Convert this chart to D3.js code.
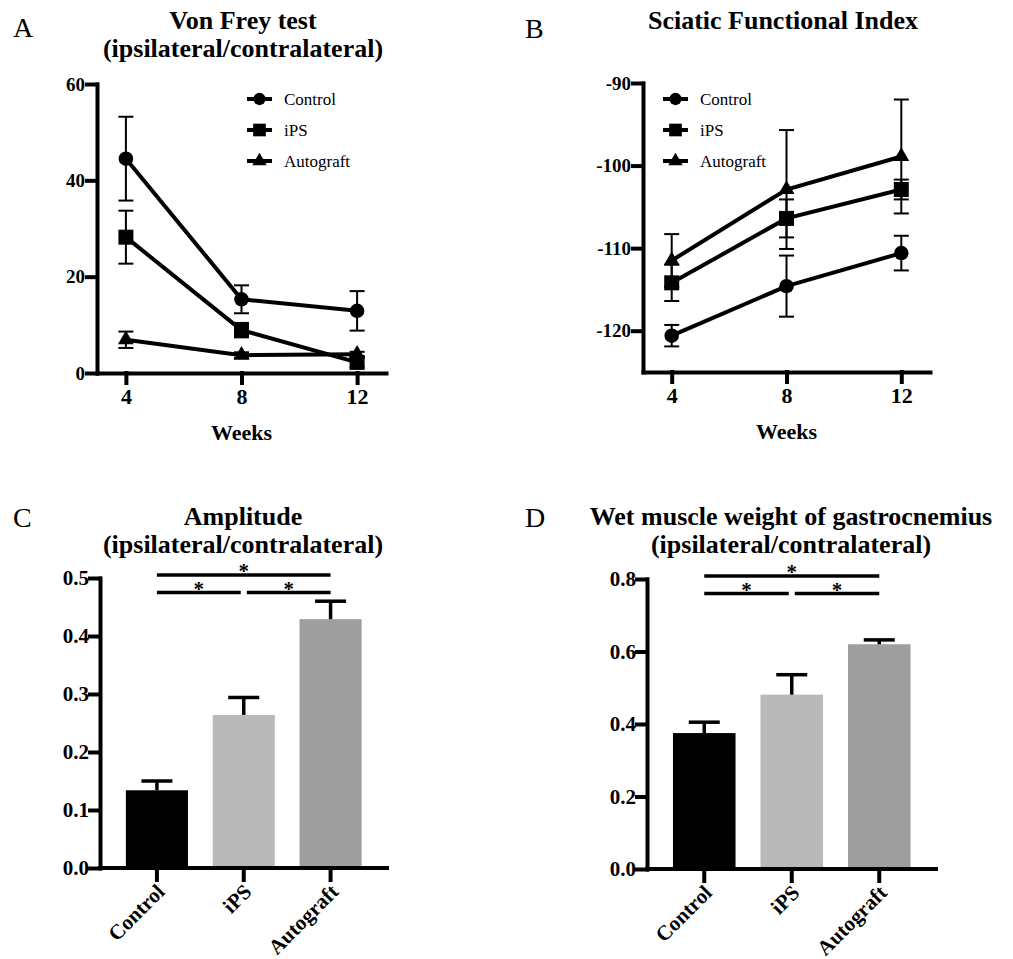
<!DOCTYPE html>
<html lang="en">
<head>
<meta charset="utf-8">
<title>Functional recovery after nerve repair</title>
<script src="https://d3js.org/d3.v7.min.js"></script>
<style>
  body { margin: 0; background: #fff; }
  svg text { font-family: "Liberation Serif", "Times New Roman", Times, serif; }
</style>
</head>
<body>
<div id="figure"></div>
<script>
// ---- values ----
var weeks = [4, 8, 12];
var groups = ["Control", "iPS", "Autograft"];

// A: Von Frey test (mean, SEM)
var vfControl = [44.5, 15.3, 12.9];
var vfControlErr = [8.7, 2.9, 4.1];
var vfIPS = [28.2, 8.9, 2.2];
var vfIPSErr = [5.5, 1.5, 1.0];
var vfAuto = [6.9, 3.7, 3.9];
var vfAutoErr = [1.7, 0.6, 0.5];
var vfTicks = [0, 20, 40, 60];

// B: Sciatic Functional Index
var sfiControl = [-120.6, -114.6, -110.6];
var sfiControlErr = [1.3, 3.7, 2.1];
var sfiIPS = [-114.2, -106.4, -102.9];
var sfiIPSErr = [2.2, 2.3, 1.2];
var sfiAuto = [-111.5, -102.9, -98.9];
var sfiAutoErr = [3.2, 7.2, 6.9];
var sfiTicks = [-120, -110, -100, -90];

// C: Amplitude
var ampMean = [0.134, 0.264, 0.429];
var ampErr = [0.016, 0.030, 0.031];
var ampTicks = [0, 0.1, 0.2, 0.3, 0.4, 0.5];

// D: wet muscle weight
var muscleMean = [0.375, 0.481, 0.620];
var muscleErr = [0.030, 0.055, 0.012];
var muscleTicks = [0, 0.2, 0.4, 0.6, 0.8];

var barColors = ["#000000", "#b8b9b8", "#9d9e9d"];

// ---- drawing ----
var serif = "'Liberation Serif', 'Times New Roman', Times, serif";

var svg = d3.select("#figure").append("svg")
  .attr("width", 1013).attr("height", 959)
  .attr("font-family", serif);

var symbolTypes = [d3.symbolCircle, d3.symbolSquare, d3.symbolTriangle];
var markerSizes = [165, 225, 110];
var legendSizes = [120, 160, 90];

function panelLetter(letter, x, y) {
  svg.append("text").attr("x", x).attr("y", y)
    .attr("font-family", serif).attr("font-size", 28).text(letter);
}

function panelTitle(lines, cx, y0) {
  lines.forEach(function(t, i) {
    svg.append("text").attr("x", cx).attr("y", y0 + i * 28)
      .attr("text-anchor", "middle").attr("font-size", 26)
      .attr("font-family", serif).attr("font-weight", "bold").text(t);
  });
}

function styleAxis(g, fontSize) {
  g.attr("font-family", serif);
  g.selectAll("path, line").attr("stroke", "#000").attr("stroke-width", 4)
    .attr("stroke-linecap", "square");
  g.selectAll("text").attr("font-size", fontSize).attr("font-weight", "bold")
    .attr("font-family", serif).attr("fill", "#000");
}

function linePanel(o) {
  var x = d3.scaleLinear().domain([3, 13]).range([o.left, o.right]);
  var y = d3.scaleLinear().domain(o.yDomain).range([o.bottom, o.top]);
  var g = svg.append("g");

  var ya = g.append("g").attr("transform", "translate(" + o.left + ",0)")
    .call(d3.axisLeft(y).tickValues(o.yTicks).tickFormat(function(d) { return String(d); })
      .tickSize(10).tickSizeOuter(0).tickPadding(2));
  styleAxis(ya, 19);

  var xa = g.append("g").attr("transform", "translate(0," + o.bottom + ")")
    .call(d3.axisBottom(x).tickValues(weeks).tickSize(10).tickSizeOuter(0).tickPadding(5));
  styleAxis(xa, 22);

  g.append("text").attr("x", (x(4) + x(12)) / 2).attr("y", o.bottom + 67)
    .attr("text-anchor", "middle").attr("font-size", 22).attr("font-weight", "bold")
    .attr("font-family", serif).text("Weeks");

  var series = o.series.map(function(s) {
    return weeks.map(function(w, j) { return { w: w, m: s.mean[j], e: s.err[j] }; });
  });

  // error bars
  series.forEach(function(pts) {
    pts.forEach(function(d) {
      g.append("line").attr("x1", x(d.w)).attr("x2", x(d.w))
        .attr("y1", y(d.m - d.e)).attr("y2", y(d.m + d.e))
        .attr("stroke", "#000").attr("stroke-width", 2);
      [d.m - d.e, d.m + d.e].forEach(function(v) {
        g.append("line").attr("x1", x(d.w) - 7.5).attr("x2", x(d.w) + 7.5)
          .attr("y1", y(v)).attr("y2", y(v))
          .attr("stroke", "#000").attr("stroke-width", 2);
      });
    });
  });

  var line = d3.line().x(function(d) { return x(d.w); }).y(function(d) { return y(d.m); });
  series.forEach(function(pts) {
    g.append("path").attr("d", line(pts)).attr("fill", "none")
      .attr("stroke", "#000").attr("stroke-width", 4);
  });

  // markers: autograft first so squares and circles sit on top
  [2, 1, 0].forEach(function(i) {
    g.selectAll(null).data(series[i]).enter().append("path")
      .attr("d", d3.symbol().type(symbolTypes[i]).size(markerSizes[i]))
      .attr("transform", function(d) { return "translate(" + x(d.w) + "," + y(d.m) + ")"; })
      .attr("fill", "#000");
  });

  // legend
  groups.forEach(function(name, i) {
    var ly = o.legendY + i * 31;
    g.append("line").attr("x1", o.legendX).attr("x2", o.legendX + 25)
      .attr("y1", ly).attr("y2", ly).attr("stroke", "#000").attr("stroke-width", 4);
    g.append("path").attr("d", d3.symbol().type(symbolTypes[i]).size(legendSizes[i]))
      .attr("transform", "translate(" + (o.legendX + 12.5) + "," + ly + ")");
    g.append("text").attr("x", o.legendX + 37).attr("y", ly).attr("dy", "0.33em")
      .attr("font-family", serif).attr("font-size", 17).text(name);
  });
}

function barPanel(o) {
  var x = d3.scaleBand().domain(groups).range([o.left + 13.5, o.right - 13])
    .paddingInner(0.285).paddingOuter(0.1425);
  var y = d3.scaleLinear().domain(o.yDomain).range([o.bottom, o.top]);
  var g = svg.append("g");
  var cx = function(name) { return x(name) + x.bandwidth() / 2; };

  g.selectAll(null).data(groups).enter().append("rect")
    .attr("x", function(d) { return x(d); })
    .attr("y", function(d, i) { return y(o.mean[i]); })
    .attr("width", x.bandwidth())
    .attr("height", function(d, i) { return o.bottom - y(o.mean[i]); })
    .attr("fill", function(d, i) { return barColors[i]; });

  groups.forEach(function(name, i) {
    var top = y(o.mean[i] + o.err[i]);
    g.append("line").attr("x1", cx(name)).attr("x2", cx(name))
      .attr("y1", y(o.mean[i])).attr("y2", top)
      .attr("stroke", "#000").attr("stroke-width", 3.5);
    g.append("line").attr("x1", cx(name) - 15.5).attr("x2", cx(name) + 15.5)
      .attr("y1", top).attr("y2", top)
      .attr("stroke", "#000").attr("stroke-width", 3.5);
  });

  var ya = g.append("g").attr("transform", "translate(" + o.left + ",0)")
    .call(d3.axisLeft(y).tickValues(o.yTicks).tickFormat(d3.format(".1f"))
      .tickSize(10).tickSizeOuter(0).tickPadding(1));
  styleAxis(ya, 21);

  var xa = g.append("g").attr("transform", "translate(0," + o.bottom + ")")
    .call(d3.axisBottom(x).tickSize(12).tickSizeOuter(0));
  xa.select(".domain").remove();
  styleAxis(xa, 21);
  xa.selectAll("text").attr("x", 0).attr("y", 0).attr("dy", 0)
    .attr("transform", "translate(9,25) rotate(-45)")
    .style("text-anchor", "end");
  g.append("line").attr("x1", o.left).attr("x2", o.right)
    .attr("y1", o.bottom).attr("y2", o.bottom)
    .attr("stroke", "#000").attr("stroke-width", 4).attr("stroke-linecap", "square");

  // significance brackets
  var upper = o.top - 3, lower = o.top + 14.5;
  var brackets = [
    [cx(groups[0]), cx(groups[2]), upper],
    [cx(groups[0]), cx(groups[1]) - 3, lower],
    [cx(groups[1]) + 3, cx(groups[2]), lower]
  ];
  brackets.forEach(function(b) {
    g.append("line").attr("x1", b[0]).attr("x2", b[1]).attr("y1", b[2]).attr("y2", b[2])
      .attr("stroke", "#000").attr("stroke-width", 3.5);
    g.append("text").attr("x", (b[0] + b[1]) / 2).attr("y", b[2] + 3)
      .attr("text-anchor", "middle").attr("font-size", 21).attr("font-weight", "bold")
      .attr("font-family", serif).text("*");
  });
}

// panel A
panelLetter("A", 13, 37);
panelTitle(["Von Frey test", "(ipsilateral/contralateral)"], 243, 29);
linePanel({
  left: 97, right: 386, top: 84, bottom: 373, yDomain: [0, 60], yTicks: vfTicks,
  legendX: 247, legendY: 99,
  series: [
    { mean: vfControl, err: vfControlErr },
    { mean: vfIPS, err: vfIPSErr },
    { mean: vfAuto, err: vfAutoErr }
  ]
});

// panel B
panelLetter("B", 525, 38);
panelTitle(["Sciatic Functional Index"], 783, 29);
linePanel({
  left: 643, right: 930, top: 83, bottom: 372, yDomain: [-125, -90], yTicks: sfiTicks,
  legendX: 663, legendY: 99,
  series: [
    { mean: sfiControl, err: sfiControlErr },
    { mean: sfiIPS, err: sfiIPSErr },
    { mean: sfiAuto, err: sfiAutoErr }
  ]
});

// panel C
panelLetter("C", 13, 527);
panelTitle(["Amplitude", "(ipsilateral/contralateral)"], 243, 525);
barPanel({
  left: 100, right: 387, top: 578, bottom: 868, yDomain: [0, 0.5], yTicks: ampTicks,
  mean: ampMean, err: ampErr
});

// panel D
panelLetter("D", 525, 527);
panelTitle(["Wet muscle weight of gastrocnemius", "(ipsilateral/contralateral)"], 791, 525);
barPanel({
  left: 647, right: 936, top: 579, bottom: 869, yDomain: [0, 0.8], yTicks: muscleTicks,
  mean: muscleMean, err: muscleErr
});
</script>
</body>
</html>
